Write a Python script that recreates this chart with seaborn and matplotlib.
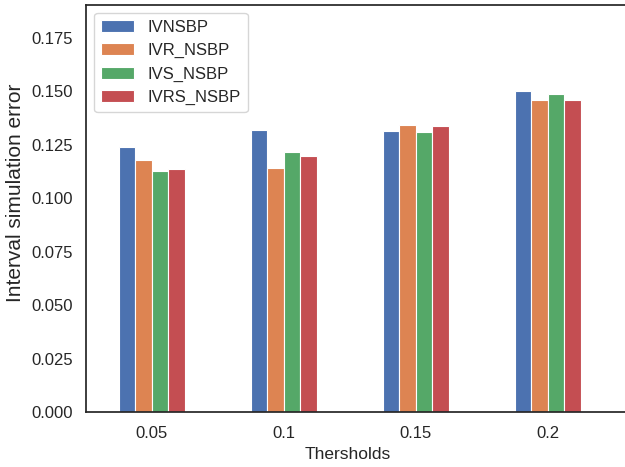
import matplotlib
matplotlib.use("Agg")
import matplotlib.pyplot as plt
import pandas as pd
import seaborn as sns

# values
thresholds = ["0.05", "0.1", "0.15", "0.2"]
methods = ["IVNSBP", "IVR_NSBP", "IVS_NSBP", "IVRS_NSBP"]
ivnsbp = [0.1242, 0.1320, 0.1314, 0.1501]
ivr_nsbp = [0.1178, 0.1141, 0.1343, 0.1462]
ivs_nsbp = [0.1128, 0.1216, 0.1312, 0.1486]
ivrs_nsbp = [0.1136, 0.1198, 0.1337, 0.1461]

rows = []
for name, vals in zip(methods, [ivnsbp, ivr_nsbp, ivs_nsbp, ivrs_nsbp]):
    for t, v in zip(thresholds, vals):
        rows.append({"Thersholds": t, "method": name, "error": v})
df = pd.DataFrame(rows)

sns.set_theme(style="white", palette="deep")
plt.rcParams["font.family"] = ["Liberation Sans", "DejaVu Sans"]

fig = plt.figure(figsize=(6.25, 4.67), dpi=100)
ax = fig.add_axes([0.1376, 0.117, 0.870, 0.8728])

sns.barplot(data=df, x="Thersholds", y="error", hue="method",
            hue_order=methods, order=thresholds, width=0.5, saturation=1,
            edgecolor="white", linewidth=0.8, ax=ax)

ax.set_xlim(-0.5, 3.62)
ax.set_ylim(0, 0.1905)
ax.set_yticks([0.0, 0.025, 0.05, 0.075, 0.1, 0.125, 0.15, 0.175])
ax.set_yticklabels(["0.000", "0.025", "0.050", "0.075", "0.100", "0.125", "0.150", "0.175"])
ax.set_xlabel("Thersholds", fontsize=12.5)
ax.set_ylabel("Interval simulation error", fontsize=15)
ax.xaxis.set_label_coords(0.482, -0.085)
ax.yaxis.set_label_coords(-0.112, 0.538)
ax.tick_params(labelsize=12)
ax.legend(loc="upper left", fontsize=12, title=None)

fig.savefig("out.png", dpi=100)
